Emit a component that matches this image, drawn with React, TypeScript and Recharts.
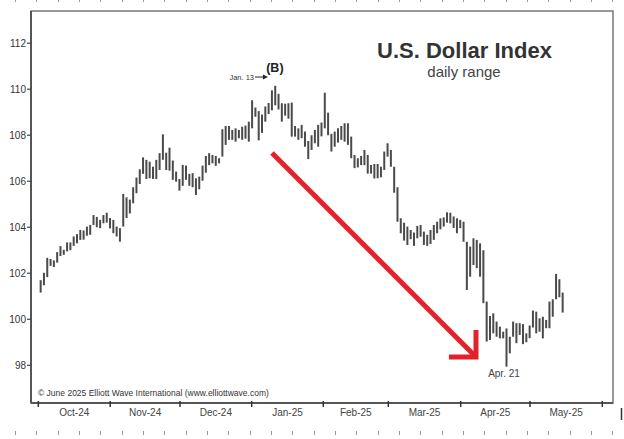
import React from 'react';
import { ComposedChart, Bar, XAxis, YAxis, ReferenceLine, ReferenceDot, ReferenceArea } from 'recharts';

// Daily highs and lows, one per trading day, Oct 2 2024 .. May 14 2025
const highs = [
  101.70, 102.02, 102.67, 102.62, 102.56, 102.92, 103.18, 103.02, 103.34, 103.34,
  103.60, 103.70, 103.88, 103.86, 104.03, 104.10, 104.53, 104.45, 104.32, 104.53,
  104.63, 104.40, 104.32, 104.03, 103.96, 105.45, 105.30, 105.20, 105.74, 106.16,
  106.52, 107.04, 106.93, 106.85, 106.63, 106.93, 107.22, 108.04, 107.24, 107.46,
  106.90, 106.42, 106.10, 106.71, 106.68, 106.32, 106.35, 106.13, 106.20, 106.68,
  107.10, 107.22, 107.14, 107.10, 107.00, 108.26, 108.40, 108.40, 108.23, 108.30,
  108.23, 108.37, 108.42, 108.59, 109.52, 109.20, 109.05, 108.90, 109.25, 109.40,
  109.95, 110.15, 109.80, 109.39, 109.37, 109.39, 109.42, 108.40, 108.30, 108.45,
  108.16, 107.75, 108.00, 108.23, 108.45, 108.55, 109.85, 108.98, 108.06, 108.16,
  108.30, 108.40, 108.52, 108.52, 107.94, 107.14, 107.00, 107.10, 107.36, 107.14,
  106.71, 106.75, 106.75, 106.63, 107.29, 107.65, 107.36, 106.63, 105.74, 104.39,
  104.20, 104.03, 103.88, 103.77, 104.06, 104.10, 103.81, 103.67, 103.88, 104.10,
  104.24, 104.39, 104.43, 104.65, 104.63, 104.47, 104.39, 104.32, 104.24, 103.37,
  103.16, 103.52, 103.45, 103.30, 103.00, 100.77, 100.14, 100.26, 99.90, 99.68,
  99.46, 99.60, 99.24, 99.90, 99.83, 99.83, 99.79, 99.39, 99.73, 100.38,
  100.33, 100.04, 100.11, 99.97, 100.77, 100.87, 101.97, 101.74, 101.16,
];
const lows = [
  101.16, 101.48, 101.83, 102.32, 102.27, 102.46, 102.75, 102.80, 102.95, 103.00,
  103.19, 103.30, 103.45, 103.46, 103.63, 103.67, 104.10, 104.00, 103.96, 104.17,
  104.20, 103.95, 103.74, 103.60, 103.37, 104.03, 104.40, 104.60, 105.04, 105.48,
  105.88, 106.32, 106.10, 106.13, 106.10, 106.10, 106.49, 106.93, 106.49, 106.46,
  106.06, 105.98, 105.59, 105.80, 106.06, 105.80, 105.74, 105.40, 105.65, 106.02,
  106.37, 106.70, 106.78, 106.67, 106.78, 107.07, 107.58, 107.80, 107.80, 107.72,
  107.87, 107.80, 107.85, 107.72, 108.30, 108.80, 107.78, 108.10, 108.59, 108.92,
  109.08, 109.30, 109.12, 108.59, 108.85, 108.72, 107.94, 107.94, 107.80, 107.87,
  107.50, 106.96, 107.36, 107.65, 107.50, 107.95, 108.30, 108.00, 107.29, 107.50,
  107.68, 107.80, 107.72, 107.58, 107.00, 106.57, 106.60, 106.70, 106.70, 106.33,
  106.33, 106.12, 106.13, 106.17, 106.49, 107.07, 106.63, 105.50, 104.24, 103.74,
  103.42, 103.23, 103.48, 103.19, 103.52, 103.59, 103.23, 103.19, 103.27, 103.45,
  103.74, 103.91, 104.03, 104.20, 104.17, 103.97, 103.74, 103.96, 103.37, 101.27,
  101.85, 102.36, 102.22, 101.85, 100.70, 99.03, 99.10, 99.39, 99.24, 99.17,
  99.17, 97.94, 98.52, 99.24, 98.96, 99.32, 98.92, 99.00, 99.18, 99.64,
  99.39, 99.46, 99.17, 99.61, 99.61, 100.11, 100.87, 100.96, 100.29,
];

// Month boundaries on the trading-day axis, and month labels
const monthBoundaries = [-0.6, 21.16, 42.28, 63.98, 85.65, 105.33, 127.24, 148.22, 170.1];
const monthLabels = ['Oct-24', 'Nov-24', 'Dec-24', 'Jan-25', 'Feb-25', 'Mar-25', 'Apr-25', 'May-25'];
const yTicks = [98, 100, 102, 104, 106, 108, 110, 112];

const X_DOMAIN: [number, number] = [-2.815, 173.34];
const Y_DOMAIN: [number, number] = [96.36, 113.4];

const FONT = '"Liberation Sans", Arial, Helvetica, sans-serif';

const data = highs.map((h, i) => ({ i, range: [lows[i], h] }));
const labelPos = monthLabels.map((_, k) => (monthBoundaries[k] + monthBoundaries[k + 1]) / 2);
const xTicks = [...monthBoundaries, ...labelPos].sort((a, b) => a - b);

const renderXTick = (props: any) => {
  const { x, y, payload } = props;
  const v = payload.value;
  const k = labelPos.findIndex((p) => Math.abs(p - v) < 1e-6);
  if (k >= 0) {
    return (
      <text x={x} y={y + 13} textAnchor="middle" fontSize={10} fill="#444" stroke="none" fontFamily={FONT}>
        {monthLabels[k]}
      </text>
    );
  }
  return <line x1={x} x2={x} y1={y - 2} y2={y + 4} stroke="#333" strokeWidth={1.5} />;
};

const RedArrow = (p: any) => {
  const { x1, y1, x2, y2 } = p;
  const head = 27;
  return (
    <g>
      <line x1={x1} y1={y1} x2={x2} y2={y2} stroke="#e5202a" strokeWidth={5} />
      <polyline
        points={`${x2},${y2 - head} ${x2},${y2} ${x2 - head},${y2}`}
        fill="none"
        stroke="#e5202a"
        strokeWidth={5}
        strokeLinejoin="miter"
      />
    </g>
  );
};

const JanArrow = (p: any) => {
  const { x1, y1, x2 } = p;
  return (
    <g>
      <text x={x1 - 1} y={y1} dominantBaseline="central" textAnchor="end" fontSize={7.5} fill="#333" stroke="none" fontFamily={FONT}>
        Jan. 13
      </text>
      <line x1={x1} y1={y1} x2={x2 - 4} y2={y1} stroke="#222" strokeWidth={1} />
      <polygon points={`${x2},${y1} ${x2 - 5},${y1 - 2.5} ${x2 - 5},${y1 + 2.5}`} fill="#222" stroke="none" />
    </g>
  );
};

const rulerXs = Array.from({ length: 29 }, (_, k) => Math.round(15 + k * 21.33));

export default function App() {
  return (
    <div style={{ position: 'absolute', left: 0, top: 0, width: 624, height: 439, background: '#fff', fontFamily: FONT }}>
      <ComposedChart width={624} height={439} data={data} margin={{ top: 11, right: 11, bottom: 0, left: 0 }}>
        <ReferenceArea
          x1={X_DOMAIN[0]}
          x2={X_DOMAIN[1]}
          y1={Y_DOMAIN[0]}
          y2={Y_DOMAIN[1]}
          fill="none"
          fillOpacity={0}
          stroke="#777"
          strokeWidth={1.5}
          ifOverflow="visible"
        />
        <XAxis
          dataKey="i"
          type="number"
          domain={X_DOMAIN}
          allowDataOverflow
          ticks={xTicks}
          interval={0}
          tick={renderXTick}
          tickLine={false}
          tickSize={0}
          tickMargin={0}
          height={36}
          axisLine={{ stroke: '#555', strokeWidth: 2 }}
        />
        <YAxis
          type="number"
          domain={Y_DOMAIN}
          allowDataOverflow
          ticks={yTicks}
          interval={0}
          width={31}
          tickSize={4}
          tickMargin={1}
          tickLine={{ stroke: '#444', strokeWidth: 1.2 }}
          axisLine={{ stroke: '#555', strokeWidth: 2 }}
          tick={{ fontSize: 10, fill: '#333', fontFamily: FONT }}
        />
        <Bar dataKey="range" barSize={2} fill="#4a4a4a" isAnimationActive={false} />
        <ReferenceLine
          segment={[{ x: 70.13, y: 107.23 }, { x: 131.87, y: 98.36 }]}
          shape={RedArrow}
        />
        <ReferenceLine
          segment={[{ x: 65.0, y: 110.53 }, { x: 68.9, y: 110.53 }]}
          shape={JanArrow}
        />
        <ReferenceDot
          x={71}
          y={110.75}
          r={0}
          shape={(p: any) => (
            <text x={p.cx} y={p.cy} textAnchor="middle" fontSize={12.5} fontWeight="bold" fill="#222" stroke="none" fontFamily={FONT}>
              (B)
            </text>
          )}
        />
        <ReferenceDot
          x={140.35}
          y={97.63}
          r={0}
          shape={(p: any) => (
            <text x={p.cx} y={p.cy} textAnchor="middle" dominantBaseline="central" fontSize={10} fill="#444" stroke="none" fontFamily={FONT}>
              Apr. 21
            </text>
          )}
        />
        <text x={464.5} y={58} textAnchor="middle" fontSize={22} fontWeight="bold" fill="#333" fontFamily={FONT}>
          U.S. Dollar Index
        </text>
        <text x={464} y={77} textAnchor="middle" fontSize={15} fill="#444" fontFamily={FONT}>
          daily range
        </text>
        <text x={38} y={396} fontSize={8.5} fill="#333" fontFamily={FONT}>
          © June 2025 Elliott Wave International (www.elliottwave.com)
        </text>
      </ComposedChart>
      <svg width={624} height={439} style={{ position: 'absolute', left: 0, top: 0, pointerEvents: 'none' }}>
        {rulerXs.map((x) => (
          <line key={'t' + x} x1={x + 0.5} x2={x + 0.5} y1={0} y2={2} stroke="#999" strokeWidth={1} />
        ))}
        {rulerXs.map((x) => (
          <line key={'b' + x} x1={x + 0.5} x2={x + 0.5} y1={431} y2={435} stroke="#999" strokeWidth={1} />
        ))}
        <line x1={621.5} x2={621.5} y1={408} y2={420} stroke="#333" strokeWidth={1.5} />
      </svg>
    </div>
  );
}
